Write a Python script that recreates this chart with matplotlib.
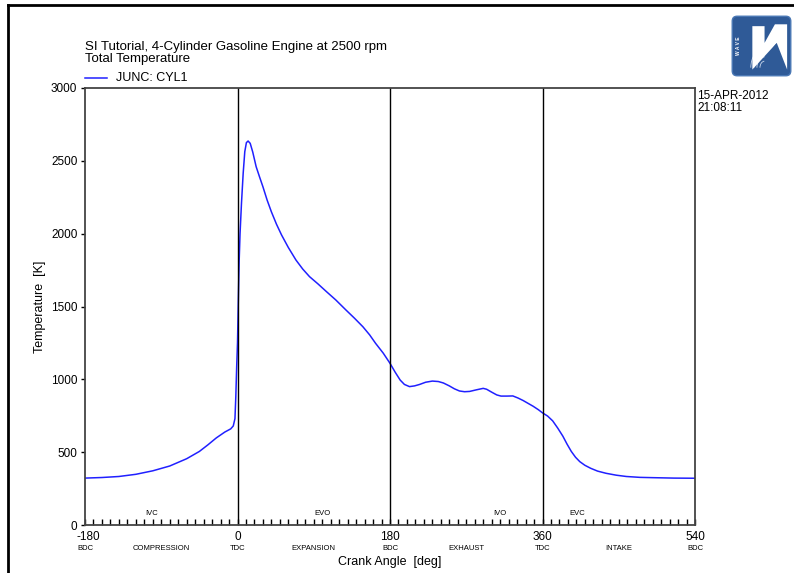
import matplotlib.pyplot as plt
import numpy as np
from matplotlib.lines import Line2D
from matplotlib.patches import FancyBboxPatch, Polygon, Arc
import matplotlib.transforms as mtransforms

plt.rcParams['font.family'] = ['Liberation Sans', 'DejaVu Sans']
plt.rcParams['axes.unicode_minus'] = False

# crank angle (deg) and total temperature (K)
crank = [-180, -160, -140, -120, -100, -80, -60, -45, -35, -25, -15, -8, -5, -3, -2, -1, 0, 1, 2, 3,
         4.7, 6.7, 8.6, 10.5, 12.5, 15, 18, 22, 26, 30, 35, 40, 46, 52, 60, 69, 77, 85, 95,
         105, 116, 128, 138, 148, 156, 163, 172, 180, 186, 192, 197, 203, 209, 215, 222,
         230, 237, 243, 250, 256, 262, 268, 274, 282, 290, 294, 300, 306, 311, 318, 325,
         331, 337, 343, 349, 355, 360, 366, 372, 378, 384, 389, 394, 399, 404, 410, 417,
         425, 435, 447, 459, 475, 490, 515, 540]
temp = [322, 326, 333, 348, 372, 405, 455, 505, 550, 598, 638, 660, 680, 730, 880, 1080, 1250, 1550, 1820, 2000,
        2209, 2414, 2563, 2625, 2636, 2620, 2560, 2460, 2390, 2322, 2230, 2150, 2065, 1991, 1905, 1819, 1757, 1705, 1655,
        1602, 1545, 1476, 1420, 1361, 1305, 1247, 1180, 1110, 1050, 995, 965, 950, 955, 965, 980,
        988, 985, 975, 955, 935, 920, 915, 917, 928, 938, 932, 912, 893, 885, 885, 886,
        872, 855, 835, 815, 792, 770, 748, 715, 665, 610, 555, 505, 465, 435, 410, 389,
        370, 355, 342, 333, 327, 325, 322, 321]

xticks = [-180, 0, 180, 360, 540]
dead_centres = ['BDC', 'TDC', 'BDC', 'TDC', 'BDC']
strokes = ['COMPRESSION', 'EXPANSION', 'EXHAUST', 'INTAKE']
stroke_pos = [-90, 90, 270, 450]
events = ['IVC', 'EVO', 'IVO', 'EVC']
event_pos = [-101, 100, 310, 401]

fig = plt.figure(figsize=(7.94, 5.73), dpi=100)
ax = fig.add_axes([85/794, 1-525/573, 610/794, 437/573])

ax.plot(crank, temp, color='#2020ff', lw=1.1)
for xv in xticks[1:-1]:
    ax.axvline(xv, color='black', lw=1)

ax.set_xlim(-180, 540)
ax.set_ylim(0, 3000)
ax.set_xticks(xticks)
ax.set_xticks(np.arange(-180, 541, 10), minor=True)
ax.set_yticks(np.arange(0, 3001, 500))
ax.tick_params(axis='x', which='both', direction='in', length=4, width=1, labelsize=8.5, pad=4.5)
ax.tick_params(axis='y', direction='out', length=3, width=1, labelsize=8.5, pad=2.5)
for s in ax.spines.values():
    s.set_color('#444444')
    s.set_linewidth(1.3)

# nudge the first x label a touch right, as in the original
first = ax.get_xticklabels()[0]
first.set_transform(first.get_transform() + mtransforms.ScaledTranslation(3/100, 0, fig.dpi_scale_trans))

tr = ax.get_xaxis_transform()
for xv, lab in zip(xticks, dead_centres):
    ax.text(xv, -0.054, lab, transform=tr, ha='center', va='center', fontsize=5.5)
for xv, lab in zip(stroke_pos, strokes):
    ax.text(xv, -0.054, lab, transform=tr, ha='center', va='center', fontsize=5.5)
for xv, lab in zip(event_pos, events):
    ax.text(xv, 82, lab, ha='center', va='center', fontsize=5.5)

ax.text(0.5, -0.084, 'Crank Angle  [deg]', transform=ax.transAxes, ha='center', va='center', fontsize=9)
ax.set_ylabel('Temperature  [K]', fontsize=9)
ax.yaxis.set_label_coords(-0.064, 0.5)

fig.text(85/794, 1-47/573, 'SI Tutorial, 4-Cylinder Gasoline Engine at 2500 rpm', fontsize=9.5, va='center')
fig.text(85/794, 1-59/573, 'Total Temperature', fontsize=9.5, va='center')
fig.add_artist(Line2D([85/794, 107/794], [1-78/573, 1-78/573], color='#2020ff', lw=1.1))
fig.text(116/794, 1-78/573, 'JUNC: CYL1', fontsize=9, va='center')
fig.text(697/794, 1-90/573, '15-APR-2012\n21:08:11', fontsize=8.5, va='top', linespacing=1.0)

# page frame
fig.add_artist(Line2D([8/794, 8/794], [0, 1-5/573], color='black', lw=2))
fig.add_artist(Line2D([8/794, 1], [1-5/573, 1-5/573], color='black', lw=2))

# logo
lg = fig.add_axes([731/794, 1-77/573, 61/794, 62/573])
lg.set_xlim(0, 1)
lg.set_ylim(0, 1)
lg.axis('off')
lg.add_patch(FancyBboxPatch((0.02, 0.02), 0.96, 0.96, boxstyle='round,pad=0,rounding_size=0.08',
                            fc='#2f5a97', ec='#4a78b5', lw=1))
lg.text(0.13, 0.5, 'W A V E', rotation=90, color='white', fontsize=3.5, ha='center', va='center',
        fontweight='bold')
for r in [0.15, 0.25, 0.35, 0.45]:
    lg.add_patch(Arc((0.55, 0.15), r, r*1.4, theta1=90, theta2=180, color='#c8d6ea', lw=0.6))
lg.add_patch(Polygon([[0.35, 0.12], [0.35, 0.82], [0.55, 0.82], [0.55, 0.55], [0.72, 0.85],
                      [0.92, 0.85], [0.92, 0.12], [0.75, 0.55]], closed=True, fc='white', ec='none'))
lg.add_patch(Polygon([[0.55, 0.12], [0.75, 0.55], [0.55, 0.3]], closed=True, fc='#2f5a97', ec='none'))

fig.savefig('out.png', dpi=100)
